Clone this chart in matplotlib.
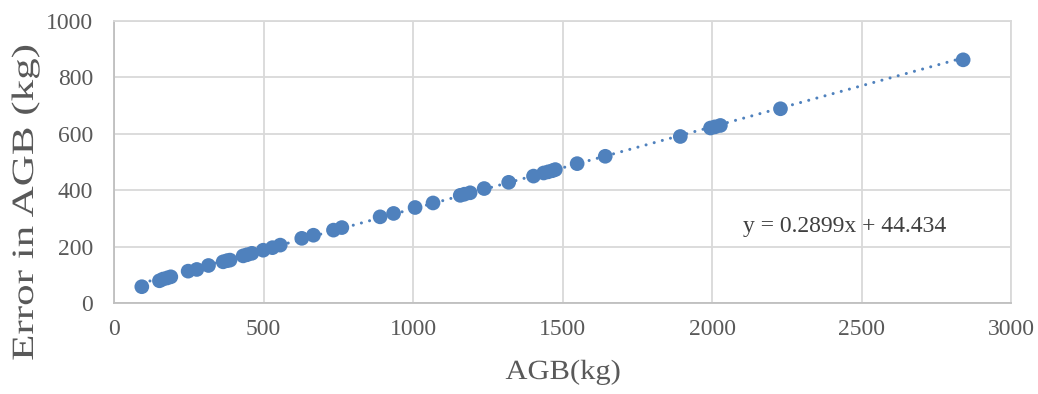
import matplotlib
matplotlib.use("Agg")
import matplotlib.pyplot as plt
from matplotlib.patheffects import AbstractPathEffect
from matplotlib.transforms import Affine2D

# Above-ground biomass (kg) and its estimated error (kg)
agb = [93, 152, 164, 178, 190, 248, 277, 316, 365, 378, 388, 432, 445, 461,
       499, 530, 556, 628, 667, 734, 762, 890, 935, 1007, 1067, 1158, 1172,
       1191, 1238, 1320, 1403, 1437, 1452, 1466, 1476, 1549, 1643, 1894,
       1995, 2010, 2028, 2229, 2840]
err = [59, 80, 86, 90, 94, 114, 120, 134, 147, 151, 153, 168, 172, 177,
       188, 197, 206, 230, 241, 259, 268, 306, 318, 339, 355, 382, 386,
       391, 406, 428, 450, 461, 465, 469, 473, 494, 520, 590, 620, 624,
       629, 688, 861]

# Linear trendline coefficients
slope = 0.2899
intercept = 44.434

x_ticks = [0, 500, 1000, 1500, 2000, 2500, 3000]
y_ticks = [0, 200, 400, 600, 800, 1000]

BLUE = "#4f81bd"
TXT = "#595959"
GRID = "#d9d9d9"
FONT = "Liberation Serif"


class ScaleX(AbstractPathEffect):
    """Scale a text path horizontally (in display space) about a pivot."""

    def __init__(self, sx=1.0, pivot="center"):
        super().__init__()
        self.sx = sx
        self.pivot = pivot

    def draw_path(self, renderer, gc, tpath, affine, rgbFace=None):
        if self.pivot == "origin":
            cx = affine.transform((0, 0))[0]
        else:
            bb = tpath.get_extents(affine)
            cx = 0.5 * (bb.x0 + bb.x1)
        t = affine + Affine2D().translate(-cx, 0).scale(self.sx, 1).translate(cx, 0)
        renderer.draw_path(gc, tpath, t, rgbFace)


W, H = 1038, 394
fig = plt.figure(figsize=(W / 100, H / 100), dpi=100)
fig.patch.set_facecolor("white")

left, right, bottom, top = 114, 1011, 303.4, 20.5
ax = fig.add_axes([left / W, 1 - bottom / H, (right - left) / W, (bottom - top) / H])

ax.set_xlim(0, 3000)
ax.set_ylim(0, 1000)
ax.set_xticks(x_ticks)
ax.set_yticks(y_ticks)
ax.grid(True, color=GRID, linewidth=1.3)
ax.set_axisbelow(True)
for side in ("top", "right"):
    ax.spines[side].set_color(GRID)
    ax.spines[side].set_linewidth(1.3)
for side in ("left", "bottom"):
    ax.spines[side].set_color("#bfbfbf")
    ax.spines[side].set_linewidth(1.3)

ax.tick_params(axis="both", length=0, labelsize=17, labelcolor=TXT)
ax.tick_params(axis="y", pad=15)
ax.tick_params(axis="x", pad=11)
for lab in ax.get_xticklabels() + ax.get_yticklabels():
    lab.set_fontfamily(FONT)

# Data points
ax.scatter(agb, err, s=112, color=BLUE, edgecolors="none", zorder=3)

# Dotted linear trendline over the data range
x0, x1 = min(agb), max(agb)
ax.plot([x0, x1], [slope * x0 + intercept, slope * x1 + intercept],
        color=BLUE, linewidth=2.2, linestyle=(0, (0.01, 2.75)),
        dash_capstyle="round", zorder=4)

ax.text(2105, 273, f"y = {slope}x + {intercept}", fontsize=17,
        family=FONT, color="#404040", ha="left", va="center")

# Axis titles
fig.text(563 / W, 1 - 379 / H, "AGB(kg)", fontsize=20, family=FONT,
         color=TXT, ha="center", va="baseline",
         path_effects=[ScaleX(1.1, "center")])
fig.text(33 / W, 1 - 202.5 / H, "Error in AGB (kg)", fontsize=31, family=FONT,
         color=TXT, ha="center", va="baseline", rotation=90,
         rotation_mode="anchor", path_effects=[ScaleX(0.72, "origin")])

fig.savefig("out.png", dpi=100, facecolor="white")
